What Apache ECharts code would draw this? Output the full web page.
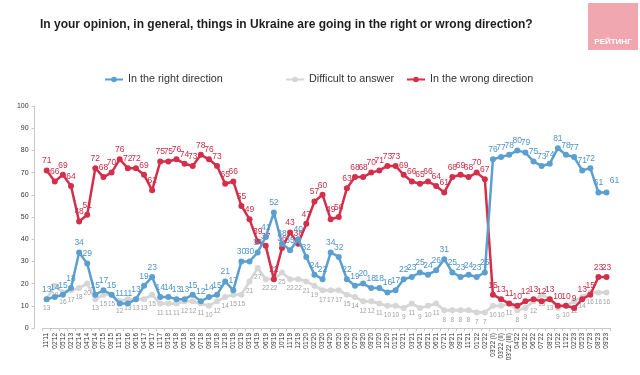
<!DOCTYPE html>
<html>
<head>
<meta charset="utf-8">
<script src="https://cdn.jsdelivr.net/npm/echarts@6/dist/echarts.min.js"></script>
<style>
html,body{margin:0;padding:0;background:#fff;}
#chart{width:640px;height:375px;}
</style>
</head>
<body>
<div id="chart"></div>
<script>
const categories = ["11'11","02'12","05'12","02'13","02'14","04'14","09'14","07'15","09'15","11'15",
"02'16","06'16","04'17","06'17","11'17","03'18","04'18","05'18","06'18","07'18",
"09'18","10'18","12'18","01'19","02'19","03'19","04'19","06'19","09'19","10'19",
"11'19","12'19","01'20","02'20","03'20","04'20","05'20","06'20","07'20","08'20",
"09'20","10'20","12'20","01'21","02'21","03'21","04'21","05'21","06'21","07'21",
"08'21","09'21","11'21","01'22","02'22","03'22 (I)","03'22 (II)","03'22 (III)","04'22","05'22",
"06'22","07'22","08'22","10'22","11'22","02'23","05'23","07'23","08'23","09'23"];

const rightDirection = [13,14,15,18,34,29,15,17,15,11,
11,13,19,23,14,14,13,13,15,12,
14,15,21,17,30,30,34,41,52,38,
35,40,32,24,22,34,32,22,19,20,
18,18,16,17,22,23,25,24,26,31,
25,23,24,23,25,76,77,78,80,79,
75,73,74,81,78,77,71,72,61,61];

const difficult = [13,19,16,17,18,20,13,15,15,12,
13,13,13,15,11,11,11,12,12,11,
10,12,14,15,15,21,27,22,22,25,
22,22,21,19,17,17,17,15,14,12,
12,11,10,10,9,11,9,10,11,8,
8,8,8,7,7,10,10,11,8,9,
12,15,13,9,10,12,14,16,16,16];

const wrongDirection = [71,66,69,64,48,51,72,68,70,76,
72,72,69,62,75,75,76,74,73,78,
76,73,65,66,55,49,39,37,22,36,
43,38,47,57,60,49,50,63,68,68,
70,71,73,73,69,66,65,66,64,61,
68,69,68,70,67,15,13,11,10,12,
13,12,13,10,10,9,13,15,23,23];

const yTicks = {min:0, max:100, interval:10};
const seriesNames = ['In the right direction','Difficult to answer','In the wrong direction'];

const BLUE = '#5a9fd0', GRAY = '#d6d6d6', RED = '#d22f4b';

const chart = echarts.init(document.getElementById('chart'), null, {renderer:'canvas'});
const font = 'Liberation Sans, Arial, sans-serif';

function legend(name, left){
  return {data:[name], left:left, top:69, itemWidth:18, itemHeight:7, itemGap:5,
    textStyle:{fontSize:10.8, color:'#333', fontFamily:font}};
}

chart.setOption({
  animation:false,
  backgroundColor:'#fff',
  title:{text:'In your opinion, in general, things in Ukraine are going in the right or wrong direction?',
    left:35, top:14,
    textStyle:{fontSize:12, fontWeight:'bold', color:'#1e1e1e', fontFamily:font}},
  graphic:[
    {type:'rect', shape:{x:588, y:3, width:50, height:47}, style:{fill:'#f1a7b0'}},
    {type:'text', style:{x:613, y:42, text:'РЕЙТИНГ', fill:'#fff', font:'bold 8px Liberation Sans, Arial', align:'center', verticalAlign:'middle'}}
  ],
  legend:[legend(seriesNames[0],99), legend(seriesNames[1],280), legend(seriesNames[2],401)],
  grid:{left:42.6, right:29.4, top:106, bottom:47, containLabel:false},
  xAxis:{type:'category', data:categories, boundaryGap:true,
    axisLine:{lineStyle:{color:'#c8c8c8'}},
    axisTick:{show:true, interval:0, length:3, lineStyle:{color:'#c8c8c8'}},
    axisLabel:{interval:0, rotate:90, fontSize:6.5, color:'#333', margin:5, fontFamily:font}},
  yAxis:{type:'value', min:yTicks.min, max:yTicks.max, interval:yTicks.interval, offset:8,
    axisLine:{show:true, lineStyle:{color:'#c8c8c8'}},
    axisTick:{show:true, length:3, lineStyle:{color:'#c8c8c8'}},
    splitLine:{show:false},
    axisLabel:{fontSize:7, color:'#333', margin:6, fontFamily:font}},
  series:[
    {name:seriesNames[1], type:'line', data:difficult, z:1,
      symbol:'circle', symbolSize:6, itemStyle:{color:GRAY}, lineStyle:{color:GRAY, width:2.8},
      label:{show:true, position:'bottom', distance:3, fontSize:6.5, color:'#a0a0a0', fontFamily:font}},
    {name:seriesNames[0], type:'line', data:rightDirection, z:3,
      symbol:'circle', symbolSize:6, itemStyle:{color:BLUE}, lineStyle:{color:BLUE, width:2.5},
      label:{show:true, position:'top', distance:2, fontSize:8.5, color:'#4f94c8', fontFamily:font},
      labelLayout:function(p){ return p.dataIndex === rightDirection.length-1 ? {dx:8, dy:-2} : {}; }},
    {name:seriesNames[2], type:'line', data:wrongDirection, z:2,
      symbol:'circle', symbolSize:6, itemStyle:{color:RED}, lineStyle:{color:RED, width:2.5},
      label:{show:true, position:'top', distance:2, fontSize:8.5, color:'#cc2e48', fontFamily:font}}
  ]
});
</script>
</body>
</html>
